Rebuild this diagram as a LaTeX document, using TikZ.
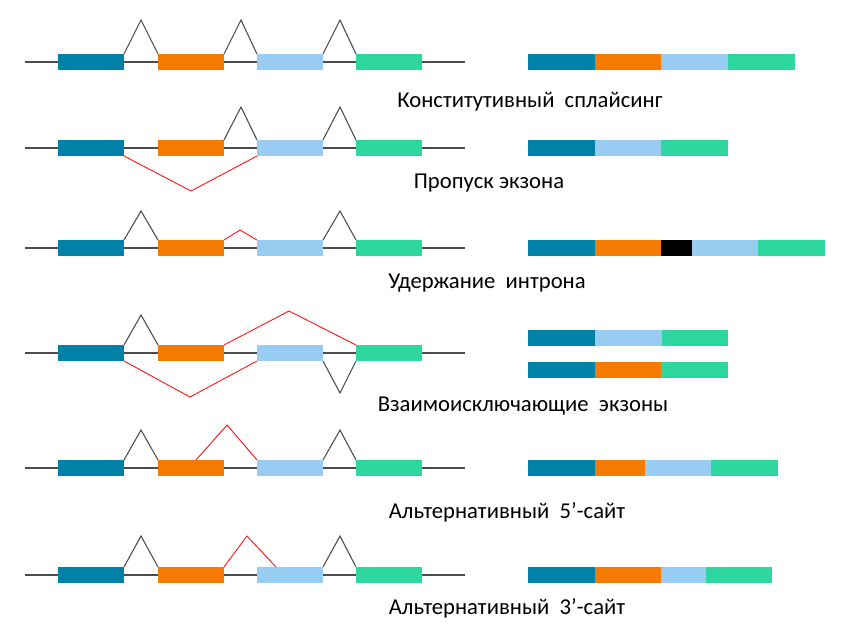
\documentclass[tikz,border=0pt]{standalone}
\usepackage{fontspec}
\setmainfont{Carlito}
\definecolor{eA}{HTML}{0081A7}
\definecolor{eB}{HTML}{F57A00}
\definecolor{eC}{HTML}{99CCF2}
\definecolor{eD}{HTML}{2ED6A0}
\tikzset{gl/.style={draw=black!70,line width=0.8pt},rl/.style={draw=red!90!white,line width=0.7pt},
lab/.style={font=\fontsize{17}{20}\selectfont,anchor=center}}
\newcommand{\ex}[4]{\fill[#1] (#2,#4-8) rectangle (#3,#4+8);}
\newcommand{\gene}[1]{\draw[gl] (25,#1)--(465,#1);
\ex{eA}{58}{124}{#1}\ex{eB}{158}{224}{#1}\ex{eC}{257}{323}{#1}\ex{eD}{356}{422}{#1}}
\begin{document}
\begin{tikzpicture}[x=0.75pt,y=-0.75pt]
\useasboundingbox (0,0) rectangle (844,633);
% row1
\gene{62}
\draw[gl] (124,54)--(141,20)--(158,54) (224,54)--(241,20)--(257,54) (323,54)--(340,20)--(356,54);
\ex{eA}{528}{595}{62}\ex{eB}{595}{661}{62}\ex{eC}{661}{728}{62}\ex{eD}{728}{795}{62}
\node[lab] (l1) at (530,102) {Конститутивный\ \ сплайсинг};
% row2
\gene{148}
\draw[gl] (224,140)--(241,107)--(257,140) (323,140)--(340,107)--(356,140);
\draw[rl] (124,156)--(191,191)--(257,156);
\ex{eA}{528}{595}{148}\ex{eC}{595}{661}{148}\ex{eD}{661}{728}{148}
\node[lab] (l2) at (489,183) {Пропуск экзона};
% row3
\gene{248}
\draw[gl] (124,240)--(141,211)--(158,240) (323,240)--(340,211)--(356,240);
\draw[rl] (224,240)--(240,230)--(257,240);
\ex{eA}{528}{595}{248}\ex{eB}{595}{661}{248}\ex{black}{661}{692}{248}\ex{eC}{692}{758}{248}\ex{eD}{758}{825}{248}
\node[lab] (l3) at (487,283) {Удержание\ \ интрона};
% row4
\gene{353}
\draw[gl] (124,345)--(141,315)--(158,345) (323,361)--(340,393)--(356,361);
\draw[rl] (224,345)--(289,311)--(356,345);
\draw[rl] (124,361)--(190,397)--(257,361);
\ex{eA}{528}{595}{338}\ex{eC}{595}{662}{338}\ex{eD}{662}{728}{338}
\ex{eA}{528}{595}{370}\ex{eB}{595}{661}{370}\ex{eD}{661}{728}{370}
\node[lab] (l4) at (523,406) {Взаимоисключающие\ \ экзоны};
% row5
\gene{468}
\draw[gl] (124,460)--(141,430)--(158,460) (323,460)--(340,430)--(356,460);
\draw[rl] (196,460)--(227,425)--(257,460);
\ex{eA}{528}{595}{468}\ex{eB}{595}{645}{468}\ex{eC}{645}{711}{468}\ex{eD}{711}{778}{468}
\node[lab] (l5) at (507,512) {Альтернативный\ \ 5’-сайт};
% row6
\gene{575}
\draw[gl] (124,567)--(141,536)--(158,567) (323,567)--(340,536)--(356,567);
\draw[rl] (224,567)--(247,536)--(276,567);
\ex{eA}{528}{595}{575}\ex{eB}{595}{661}{575}\ex{eC}{661}{706}{575}\ex{eD}{706}{772}{575}
\node[lab] (l6) at (507,608) {Альтернативный\ \ 3’-сайт};
\end{tikzpicture}
\end{document}
